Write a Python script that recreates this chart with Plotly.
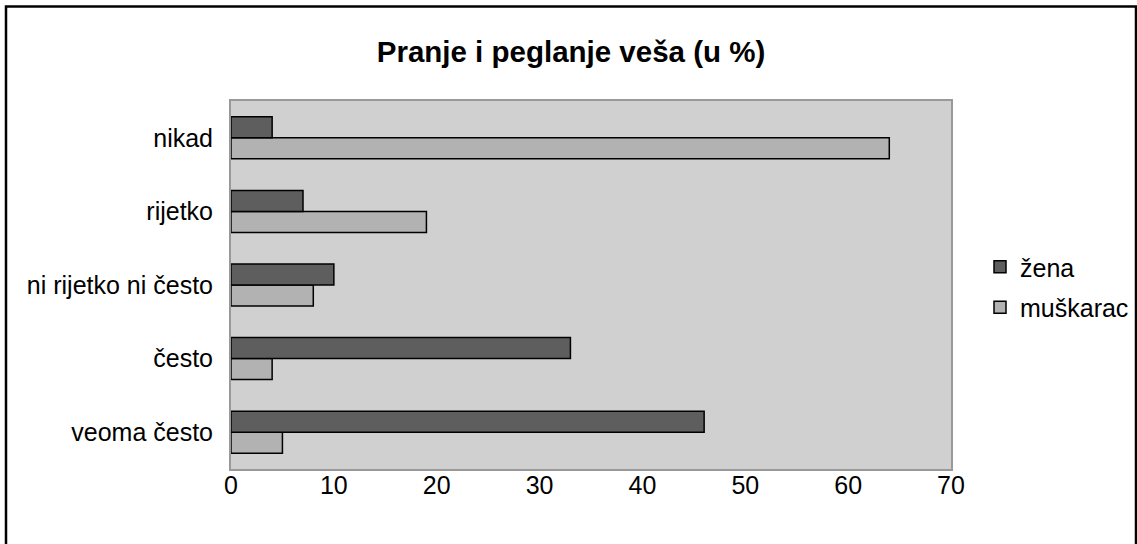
import plotly.graph_objects as go

categories = ["veoma često", "često", "ni rijetko ni često", "rijetko", "nikad"]
zena = [46, 33, 10, 7, 4]
muskarac = [5, 4, 8, 19, 64]
x_ticks = [0, 10, 20, 30, 40, 50, 60, 70]

FONT = "Liberation Sans, Arial, sans-serif"

fig = go.Figure()
fig.add_trace(go.Bar(
    y=categories, x=muskarac, name="muškarac", orientation="h",
    legendgroup="m", legendrank=2,
    marker=dict(color="#b2b2b2", line=dict(color="#000000", width=1.5)),
))
fig.add_trace(go.Bar(
    y=categories, x=zena, name="žena", orientation="h",
    legendgroup="z", legendrank=1,
    marker=dict(color="#5e5e5e", line=dict(color="#000000", width=1.5)),
))

L, R, T, B = 231, 186, 101, 75
W, H = 1137, 544
pw, ph = W - L - R, H - T - B

fig.update_layout(
    width=W, height=H,
    margin=dict(l=L, r=R, t=T, b=B, pad=0, autoexpand=False),
    paper_bgcolor="#ffffff",
    plot_bgcolor="#d0d0d0",
    barmode="group",
    bargap=0.43,
    bargroupgap=0,
    font=dict(family=FONT, size=25, color="#000000"),
    title=dict(
        text="<b>Pranje i peglanje veša (u %)</b>",
        font=dict(family=FONT, size=29.5, color="#000000"),
        x=571 / W, xanchor="center", xref="container",
        y=1 - 52 / H, yanchor="middle", yref="container",
    ),
    xaxis=dict(
        range=[0, 70], tickvals=x_ticks, ticktext=[str(v) for v in x_ticks],
        showgrid=False, zeroline=False,
        showline=True, linecolor="#999999", linewidth=2, mirror=True,
        ticks="", ticklabelstandoff=-7,
        tickfont=dict(family=FONT, size=25),
        fixedrange=True,
    ),
    yaxis=dict(
        categoryorder="array", categoryarray=categories,
        showgrid=False, zeroline=False,
        showline=True, linecolor="#999999", linewidth=2, mirror=True,
        ticks="outside", ticklen=0, ticklabelstandoff=11,
        tickfont=dict(family=FONT, size=25),
        fixedrange=True,
    ),
    legend=dict(
        traceorder="grouped",
        x=(980 - L) / pw, xanchor="left",
        y=(H - B - 287) / ph, yanchor="middle",
        bgcolor="rgba(0,0,0,0)",
        font=dict(family=FONT, size=25),
        itemwidth=30,
        tracegroupgap=5,
    ),
    shapes=[dict(
        type="rect", xref="paper", yref="paper",
        x0=(6 - L) / pw, x1=(1136 - L) / pw,
        y0=(H - B - 600) / ph, y1=(H - B - 6.5) / ph,
        line=dict(color="#000000", width=2.5),
        fillcolor="rgba(0,0,0,0)", layer="above",
    )],
)

fig.write_html(
    "out.html",
    config={"displayModeBar": False},
    post_script="document.body.style.margin='0px';",
)
